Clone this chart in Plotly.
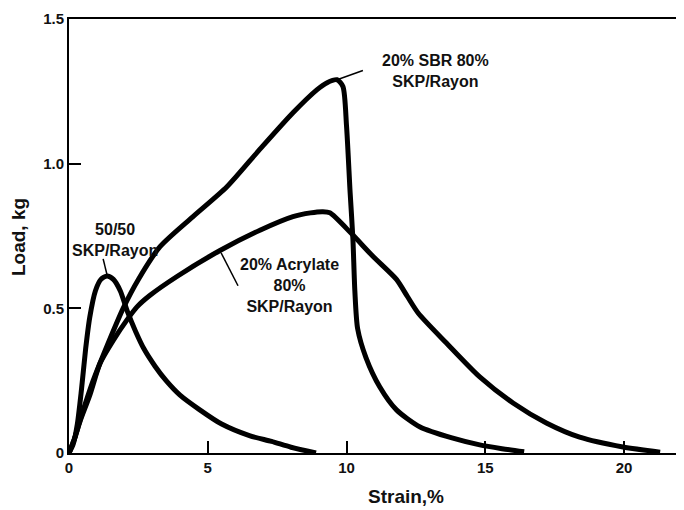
import plotly.graph_objects as go

# Strain (%) / Load (kg)
strain_5050 = [0, 0.15, 0.3, 0.45, 0.6, 0.75, 0.95, 1.15, 1.37, 1.6, 1.85, 2.1, 2.4, 2.7,
               3.1, 3.5, 4.0, 4.7, 5.5, 6.5, 7.3, 8.0, 8.9]
load_5050 = [0, 0.03, 0.1, 0.22, 0.36, 0.47, 0.56, 0.6, 0.612, 0.6, 0.56, 0.49, 0.42, 0.36,
             0.3, 0.25, 0.2, 0.15, 0.1, 0.06, 0.04, 0.02, 0.0]

strain_sbr = [0, 0.2, 0.4, 0.87, 1.37, 1.95, 2.5, 3.28, 4.47, 5.69, 6.88, 8.07, 8.94, 9.3,
              9.66, 9.87, 10.0, 10.13, 10.23, 10.3, 10.4, 10.7, 11.2, 11.8, 12.65, 13.8,
              14.8, 15.6, 16.4]
load_sbr = [0, 0.05, 0.114, 0.25, 0.37, 0.5, 0.6, 0.713, 0.817, 0.92, 1.05, 1.176, 1.256, 1.28,
            1.29, 1.267, 1.13, 0.9, 0.74, 0.56, 0.43, 0.33, 0.228, 0.149, 0.09, 0.052,
            0.028, 0.015, 0.004]

strain_acr = [0, 0.2, 0.4, 0.75, 1.12, 1.6, 2.09, 2.45, 2.92, 3.89, 5.44, 6.88, 8.07, 8.7,
              9.15, 9.4, 10.16, 10.95, 11.8, 12.2, 12.58, 13.6, 14.8, 16.0, 17.2, 18.4,
              19.96, 21.3]
load_acr = [0, 0.05, 0.11, 0.2, 0.31, 0.39, 0.46, 0.505, 0.545, 0.61, 0.70, 0.77, 0.817, 0.83,
            0.834, 0.83, 0.76, 0.68, 0.6, 0.54, 0.484, 0.38, 0.263, 0.173, 0.104, 0.055,
            0.021, 0.003]

x_ticks = [0, 5, 10, 15, 20]
y_ticks = [0, 0.5, 1.0, 1.5]
y_tick_text = ['0', '0.5', '1.0', '1.5']

# curve labels: text, position (strain, load), leader line ends
labels = [
    ('50/50<br>SKP/Rayon', 1.66, 0.737, [1.23, 1.37], [0.671, 0.616]),
    ('20% SBR 80%<br>SKP/Rayon', 13.19, 1.322, [9.66, 10.59], [1.29, 1.322]),
    ('20% Acrylate<br>80%<br>SKP/Rayon', 7.96, 0.578, [5.48, 6.09], [0.692, 0.578]),
]

FONT = 'Liberation Sans, Arial, sans-serif'
INK = '#111111'

fig = go.Figure()

for xs, ys in [(strain_5050, load_5050), (strain_sbr, load_sbr), (strain_acr, load_acr)]:
    fig.add_trace(go.Scatter(
        x=xs, y=ys, mode='lines',
        line=dict(color='black', width=5, shape='spline', smoothing=0.7),
        hoverinfo='skip', showlegend=False
    ))

for text, tx, ty, lx, ly in labels:
    fig.add_trace(go.Scatter(
        x=lx, y=ly, mode='lines',
        line=dict(color='black', width=1.5),
        hoverinfo='skip', showlegend=False
    ))
    fig.add_annotation(
        x=tx, y=ty, xref='x', yref='y', text=text, showarrow=False,
        font=dict(family=FONT, size=16, color=INK, weight='bold'),
        align='center'
    )

# axis titles
fig.add_annotation(
    x=0.548, y=-0.101, xref='paper', yref='paper', text='Strain,%',
    xanchor='center', yanchor='middle',
    showarrow=False, font=dict(family=FONT, size=19, color=INK, weight='bold')
)
fig.add_annotation(
    x=-0.081, y=0.498, xref='paper', yref='paper', text='Load, kg', textangle=-90,
    xanchor='center', yanchor='middle',
    showarrow=False, font=dict(family=FONT, size=19, color=INK, weight='bold')
)

# page body has an 8px margin, so size the figure to land the axes where the reference has them
fig.update_layout(
    width=676, height=502,
    margin=dict(l=61, r=0, t=11, b=57),
    paper_bgcolor='white', plot_bgcolor='white',
    showlegend=False,
)

fig.update_xaxes(
    range=[0, 22.16], showgrid=False, zeroline=False,
    showline=True, linecolor='black', linewidth=2, mirror=True,
    ticks='inside', ticklen=12, tickwidth=1.5, tickcolor='black',
    tickvals=x_ticks,
    tickfont=dict(family=FONT, size=15, color=INK, weight='bold'),
)
fig.update_yaxes(
    range=[0, 1.5], showgrid=False, zeroline=False,
    showline=True, linecolor='black', linewidth=2,
    ticks='inside', ticklen=12, tickwidth=1.5, tickcolor='black',
    tickvals=y_ticks, ticktext=y_tick_text,
    tickfont=dict(family=FONT, size=15, color=INK, weight='bold'),
)

fig.write_html("out.html")
